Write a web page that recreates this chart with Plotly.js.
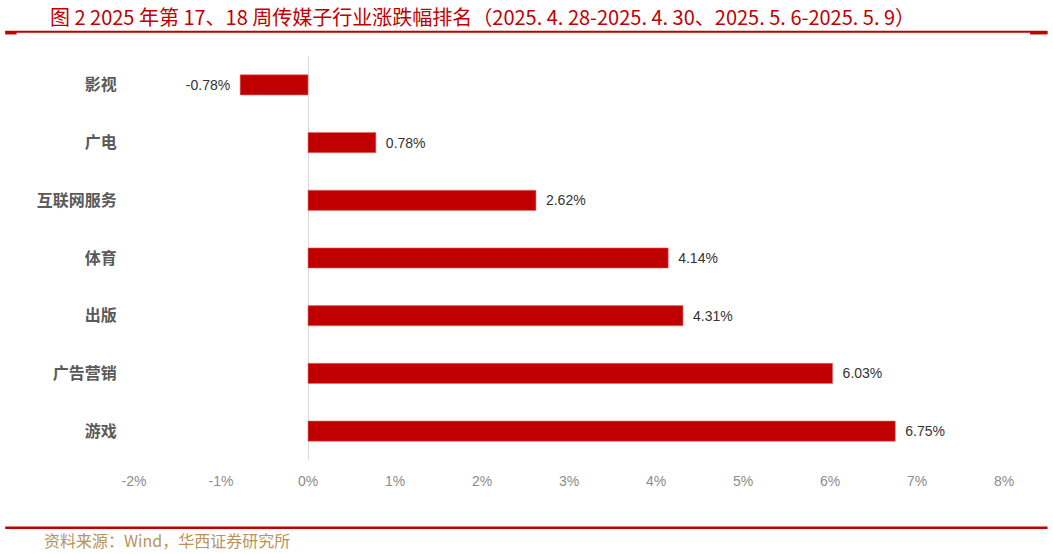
<!DOCTYPE html>
<html>
<head>
<meta charset="utf-8">
<script src="https://cdn.plot.ly/plotly-3.0.1.min.js"></script>
<style>
  html, body { margin: 0; padding: 0; background: #fff; }
  #plot { width: 1053px; height: 554px; }
</style>
</head>
<body>
<div id="plot"></div>
<script>
const categories = ['影视', '广电', '互联网服务', '体育', '出版', '广告营销', '游戏'];
const changes = [-0.78, 0.78, 2.62, 4.14, 4.31, 6.03, 6.75];
const tickValues = [-2, -1, 0, 1, 2, 3, 4, 5, 6, 7, 8];
const tickLabels = tickValues.map(v => v + '%');

// pad the labels so they sit a little away from the bar ends
const barLabels = changes.map(v => v < 0 ? v.toFixed(2) + '%\u2002' : '\u2002' + v.toFixed(2) + '%');

const trace = {
  type: 'bar',
  orientation: 'h',
  y: categories,
  x: changes,
  marker: {
    color: '#c00000',
    line: { color: '#e07070', width: 0.6 },
  },
  text: barLabels,
  textposition: 'outside',
  textfont: { family: 'Liberation Sans, Arial, sans-serif', size: 14, color: '#333333' },
  cliponaxis: false,
  hoverinfo: 'none',
};

const layout = {
  width: 1053,
  height: 554,
  showlegend: false,
  paper_bgcolor: '#ffffff',
  plot_bgcolor: '#ffffff',
  bargap: 0.65,
  margin: { l: 134, r: 49, t: 56, b: 94 },
  xaxis: {
    range: [-2, 8],
    tickvals: tickValues,
    ticktext: tickLabels,
    showgrid: false,
    zeroline: true,
    zerolinecolor: '#d9d9d9',
    zerolinewidth: 1,
    showline: false,
    ticks: 'outside',
    ticklen: 8,
    tickcolor: 'rgba(0,0,0,0)',
    tickfont: { family: 'Liberation Sans, Arial, sans-serif', size: 14, color: '#8c8c8c' },
  },
  yaxis: {
    type: 'category',
    autorange: 'reversed',
    showgrid: false,
    zeroline: false,
    showline: false,
    ticks: 'outside',
    ticklen: 13,
    tickcolor: 'rgba(0,0,0,0)',
    tickfont: { family: 'Noto Sans CJK SC, sans-serif', size: 16, color: '#5a5a5a', weight: 'bold' },
  },
  annotations: [
    // title
    {
      xref: 'paper', yref: 'paper',
      x: -0.099, y: 1.099,
      xanchor: 'left', yanchor: 'middle',
      showarrow: false,
      text: '图 2 2025 年第 17、18 周传媒子行业涨跌幅排名（2025. 4. 28-2025. 4. 30、2025. 5. 6-2025. 5. 9）',
      font: { family: 'Noto Sans CJK SC, sans-serif', size: 20, color: '#c00000' },
    },
    // source
    {
      xref: 'paper', yref: 'paper',
      x: -0.106, y: -0.198,
      xanchor: 'left', yanchor: 'middle',
      showarrow: false,
      text: '资料来源：Wind，华西证券研究所',
      font: { family: 'Noto Sans CJK SC, sans-serif', size: 16, color: '#b8935a' },
    },
  ],
  shapes: [
    // top rule
    {
      type: 'line', xref: 'paper', yref: 'paper',
      x0: -0.148, x1: 1.05, y0: 1.06, y1: 1.06,
      line: { color: '#c00000', width: 2 },
    },
    // top rule, thick ends
    {
      type: 'line', xref: 'paper', yref: 'paper',
      x0: -0.148, x1: -0.135, y0: 1.057, y1: 1.057,
      line: { color: '#c00000', width: 3 },
    },
    {
      type: 'line', xref: 'paper', yref: 'paper',
      x0: 1.03, x1: 1.05, y0: 1.057, y1: 1.057,
      line: { color: '#c00000', width: 3 },
    },
    // bottom rule
    {
      type: 'line', xref: 'paper', yref: 'paper',
      x0: -0.148, x1: 1.05, y0: -0.168, y1: -0.168,
      line: { color: '#c00000', width: 2.5 },
    },
  ],
};

const config = {
  staticPlot: true,
  displayModeBar: false,
};

Plotly.newPlot('plot', [trace], layout, config);
</script>
</body>
</html>
